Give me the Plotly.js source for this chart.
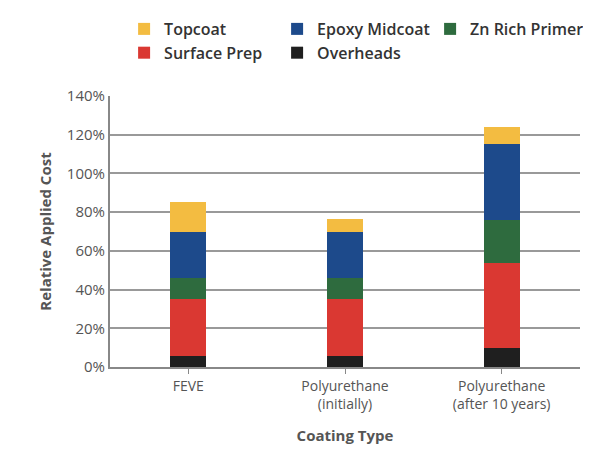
<!DOCTYPE html>
<html>
<head>
<meta charset="utf-8">
<script src="https://cdn.plot.ly/plotly-3.0.1.min.js"></script>
<style>body{margin:0;background:#fff}#chart{width:600px;height:466px}</style>
</head>
<body>
<div id="chart"></div>
<script>
var categories = ["FEVE", "Polyurethane<br>(initially)", "Polyurethane<br>(after 10 years)"];
var overheads = [5.5, 5.5, 10];
var surfacePrep = [29.5, 29.5, 43.7];
var znRichPrimer = [11, 11, 22.3];
var epoxyMidcoat = [24, 24, 39];
var topcoat = [15.5, 6.3, 9];

var series = [
    ["Overheads", overheads, "#1f1f1f"],
    ["Surface Prep", surfacePrep, "#da3832"],
    ["Zn Rich Primer", znRichPrimer, "#2e6b3e"],
    ["Epoxy Midcoat", epoxyMidcoat, "#1d4a8b"],
    ["Topcoat", topcoat, "#f3bc41"]
];

var data = series.map(function (s) {
    return {
        type: 'bar', name: s[0], x: categories, y: s[1],
        width: 0.23, marker: {color: s[2]}
    };
});

var layout = {
    width: 600, height: 466,
    barmode: 'stack',
    font: {family: 'Open Sans, sans-serif', color: '#444'},
    margin: {l: 110, r: 20, t: 92, b: 99},
    showlegend: true,
    legend: {
        orientation: 'h', traceorder: 'reversed',
        x: 0.03, y: 1.31, xanchor: 'left', yanchor: 'top',
        entrywidth: 108, itemwidth: 20,
        font: {size: 16, color: '#333', weight: 600}
    },
    xaxis: {
        showline: true, linecolor: '#888', linewidth: 2,
        ticks: 'outside', tickcolor: '#888', ticklen: 5,
        tickfont: {size: 14, color: '#555'},
        title: {text: 'Coating Type', font: {size: 15, color: '#555', weight: 700}, standoff: 18}
    },
    yaxis: {
        range: [0, 140], dtick: 20, ticksuffix: '%',
        showline: true, linecolor: '#888', linewidth: 2,
        gridcolor: '#999', gridwidth: 2, zeroline: false,
        tickfont: {size: 15, color: '#555'},
        title: {text: 'Relative Applied Cost', font: {size: 15, color: '#555', weight: 700}, standoff: 12}
    }
};

Plotly.newPlot('chart', data, layout, {staticPlot: true});
</script>
</body>
</html>
